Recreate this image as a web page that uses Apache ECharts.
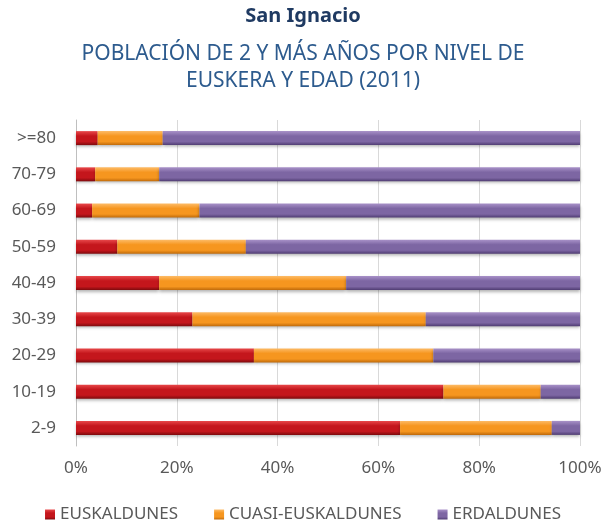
<!DOCTYPE html>
<html>
<head>
<meta charset="utf-8">
<script src="https://cdn.jsdelivr.net/npm/echarts@6/dist/echarts.min.js"></script>
<style>
  html, body { margin: 0; padding: 0; background: #fff; }
  #chart { width: 606px; height: 532px; }
</style>
</head>
<body>
<div id="chart"></div>
<script>
// grupos de edad (de abajo a arriba)
var edades = ['2-9', '10-19', '20-29', '30-39', '40-49', '50-59', '60-69', '70-79', '>=80'];
// porcentajes
var euskaldunes = [64.3, 72.9, 35.3, 23.1, 16.5, 8.2, 3.2, 3.8, 4.3];
var cuasi = [30.1, 19.3, 35.6, 46.3, 37.1, 25.5, 21.3, 12.7, 12.9];
var erdaldunes = [5.6, 7.8, 29.1, 30.6, 46.4, 66.3, 75.5, 83.5, 82.8];
var ticks = ['0%', '20%', '40%', '60%', '80%', '100%'];

var FONT = 'Noto Sans';

function grad(top, mid, bottom) {
  return new echarts.graphic.LinearGradient(0, 0, 0, 1, [
    { offset: 0, color: top },
    { offset: 0.35, color: mid },
    { offset: 0.75, color: mid },
    { offset: 1, color: bottom }
  ]);
}

var colRojo = grad('#E8484A', '#C4161C', '#7E0A0D');
var colNaranja = grad('#FDBB66', '#F6961F', '#BF6A0A');
var colMorado = grad('#A891C8', '#7D66A3', '#4F3C72');

const chart = echarts.init(document.getElementById('chart'));

function serie(name, data, color) {
  return {
    name: name,
    type: 'bar',
    stack: 'total',
    barWidth: 14,
    data: data,
    itemStyle: {
      color: color,
      shadowColor: 'rgba(0,0,0,0.3)',
      shadowBlur: 3,
      shadowOffsetY: 2
    }
  };
}

var option = {
  animation: false,
  title: [
    {
      text: 'San Ignacio',
      left: 'center',
      top: 1,
      padding: [5, 0, 5, 12],
      textStyle: { fontFamily: FONT, fontSize: 20, fontWeight: 'bold', color: '#1F3A62' }
    },
    {
      text: 'POBLACIÓN DE 2 Y MÁS AÑOS POR NIVEL DE\nEUSKERA Y EDAD (2011)',
      left: 'center',
      top: 36,
      padding: [5, 0, 5, 12],
      textStyle: { fontFamily: FONT, fontSize: 21, fontWeight: 'normal', color: '#2D5B8E', lineHeight: 27 }
    }
  ],
  legend: {
    bottom: 4,
    left: 'center',
    padding: [5, 5, 5, 23],
    itemWidth: 10,
    itemHeight: 10,
    itemGap: 36,
    icon: 'rect',
    textStyle: { fontFamily: FONT, fontSize: 17, color: '#595959' },
    data: ['EUSKALDUNES', 'CUASI-EUSKALDUNES', 'ERDALDUNES']
  },
  grid: { left: 76, right: 26, top: 120, bottom: 86 },
  xAxis: {
    type: 'value',
    min: 0,
    max: 100,
    interval: 20,
    axisLine: { show: false },
    axisTick: { show: false },
    splitLine: { lineStyle: { color: '#D9D9D9', width: 1 } },
    axisLabel: {
      margin: 14,
      fontFamily: FONT,
      fontSize: 17,
      color: '#595959',
      formatter: function (v) { return ticks[v / 20]; }
    }
  },
  yAxis: {
    type: 'category',
    data: edades,
    axisLine: { show: true, lineStyle: { color: '#BFBFBF' } },
    axisTick: { show: false },
    axisLabel: { margin: 20, fontFamily: FONT, fontSize: 17, color: '#595959' }
  },
  series: [
    serie('EUSKALDUNES', euskaldunes, colRojo),
    serie('CUASI-EUSKALDUNES', cuasi, colNaranja),
    serie('ERDALDUNES', erdaldunes, colMorado)
  ]
};

chart.setOption(option);
</script>
</body>
</html>
